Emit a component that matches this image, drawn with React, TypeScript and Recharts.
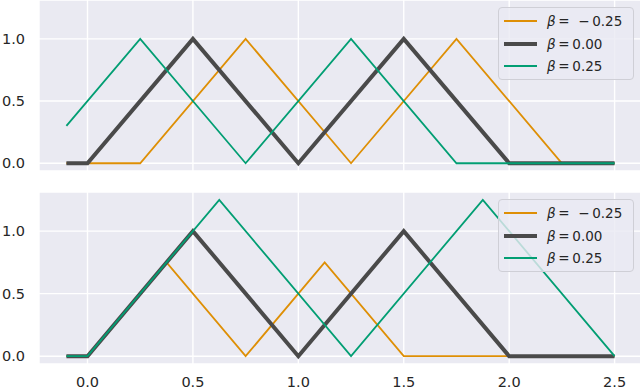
import { LineChart, Line, XAxis, YAxis, CartesianGrid } from 'recharts'

const xTicks = [0, 0.5, 1, 1.5, 2, 2.5]
const yTicks = [0, 0.5, 1]
const labels = ['−0.25', '0.00', '0.25']
const colors = ['#DE8F05', '#4A4A4A', '#029E73']
const widths = [1.8, 4, 1.8]

// top panel
const topNegX = [-0.1, 0.25, 0.75, 1.25, 1.75, 2.25, 2.5]
const topNegY = [0, 0, 1, 0, 1, 0, 0]
const topZeroX = [-0.1, 0, 0.5, 1, 1.5, 2, 2.5]
const topZeroY = [0, 0, 1, 0, 1, 0, 0]
const topPosX = [-0.1, 0.25, 0.75, 1.25, 1.75, 2.5]
const topPosY = [0.3, 1, 0, 1, 0, 0]

// bottom panel
const botNegX = [-0.1, 0, 0.375, 0.75, 1.125, 1.5, 2.5]
const botNegY = [0, 0, 0.75, 0, 0.75, 0, 0]
const botZeroX = [-0.1, 0, 0.5, 1, 1.5, 2, 2.5]
const botZeroY = [0, 0, 1, 0, 1, 0, 0]
const botPosX = [-0.1, 0, 0.625, 1.25, 1.875, 2.5]
const botPosY = [0, 0, 1.25, 0, 1.25, 0]

const zip = (xs: number[], ys: number[]) => xs.map((x, i) => ({ x, y: ys[i] }))

const topSeries = [zip(topNegX, topNegY), zip(topZeroX, topZeroY), zip(topPosX, topPosY)]
const botSeries = [zip(botNegX, botNegY), zip(botZeroX, botZeroY), zip(botPosX, botPosY)]

const FONT = '"DejaVu Sans", sans-serif'
const tickStyle = { fontSize: 14.5, fill: '#262626', fontFamily: FONT }

function BetaLegend({ top }: { top: number }) {
  return (
    <div
      style={{
        position: 'absolute',
        left: 498,
        top,
        width: 134,
        height: 71,
        border: '1px solid #cfcfd6',
        borderRadius: 4,
        background: 'rgba(234,234,242,0.8)',
        fontFamily: FONT,
        fontSize: 13.5,
        color: '#262626',
      }}
    >
      {labels.map((lab, i) => (
        <div
          key={lab}
          style={{ position: 'absolute', left: 5, top: 4 + i * 22.5, height: 18, display: 'flex', alignItems: 'center' }}
        >
          <svg width={33} height={8} style={{ marginRight: 10 }}>
            <line x1={0} x2={33} y1={4} y2={4} stroke={colors[i]} strokeWidth={widths[i]} />
          </svg>
          <span style={{ whiteSpace: 'pre' }}>
            <i>β</i>
            {i === 0 ? '\u2009=  −\u20090.25' : '\u2009=\u2009' + lab}
          </span>
        </div>
      ))}
    </div>
  )
}

const NoTick = () => <g />

function Panel({
  series,
  height,
  top,
  showX,
}: {
  series: { x: number; y: number }[][]
  height: number
  top: number
  showX: boolean
}) {
  return (
    <LineChart width={642} height={height} margin={{ top, right: 0, bottom: 0, left: 0 }}>
      <CartesianGrid fill="#EAEAF2" fillOpacity={1} stroke="#FFFFFF" strokeWidth={1.4} />
      <XAxis
        type="number"
        dataKey="x"
        domain={[-0.23, 2.63]}
        ticks={xTicks}
        interval={0}
        allowDataOverflow
        axisLine={false}
        tickLine={false}
        height={showX ? 27 : 1}
        tick={showX ? tickStyle : NoTick}
        tickFormatter={(v) => Number(v).toFixed(1)}
        tickMargin={7}
      />
      <YAxis
        type="number"
        domain={[-0.0625, 1.3125]}
        ticks={yTicks}
        interval={0}
        allowDataOverflow
        axisLine={false}
        tickLine={false}
        width={39}
        tick={tickStyle}
        tickFormatter={(v) => Number(v).toFixed(1)}
        tickMargin={8}
      />
      {series.map((d, i) => (
        <Line
          key={i}
          data={d}
          dataKey="y"
          type="linear"
          stroke={colors[i]}
          strokeWidth={widths[i]}
          dot={false}
          activeDot={false}
          isAnimationActive={false}
        />
      ))}
    </LineChart>
  )
}

export default function App() {
  return (
    <div style={{ position: 'absolute', left: 0, top: 0, width: 640, height: 391, overflow: 'hidden', background: '#fff' }}>
      <div style={{ position: 'absolute', left: 0, top: 0 }}>
        <Panel series={topSeries} height={172} top={0} showX={false} />
      </div>
      <div style={{ position: 'absolute', left: 0, top: 171 }}>
        <Panel series={botSeries} height={220} top={21} showX={true} />
      </div>
      <BetaLegend top={7} />
      <BetaLegend top={199} />
    </div>
  )
}
